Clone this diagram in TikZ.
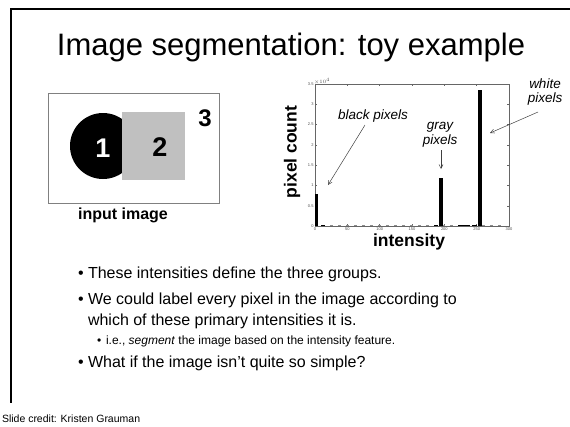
\documentclass[tikz,border=0pt]{standalone}
\usepackage{fontspec}
\setmainfont{Liberation Sans}
\usetikzlibrary{arrows.meta}
\newcommand{\sz}[1]{\fontsize{#1bp}{#1bp}\selectfont}
\definecolor{boxgray}{HTML}{C0C0C0}
\definecolor{rimgray}{HTML}{808080}
\begin{document}
\begin{tikzpicture}[x=1bp,y=-1bp,
  txt/.style={inner sep=0pt, outer sep=0pt},
  bigdigit/.style={txt, font=\sz{27}\bfseries},
  axlabel/.style={txt, font=\sz{17.5}\bfseries},
  note/.style={txt, font=\sz{13.5}\itshape, align=center},
  pointer/.style={line width=0.5bp, draw=black!75, -{Straight Barb[length=4bp,width=4bp]}},
  ticklbl/.style={txt, font=\sz{4}, text=black!70},
  bullet/.style={txt, anchor=base west, font=\sz{16}},
  subbullet/.style={txt, anchor=base west, font=\sz{12}},
  bar/.style={fill=black}
]
\useasboundingbox (0,0) rectangle (570,426);

% slide frame
\draw[line width=2.5bp] (570,9) -- (11,9) -- (11,403);

% title
\node[txt, anchor=base, font=\sz{31}] (title) at (291,55) {Image segmentation: toy example};

% input image
\draw[rimgray, line width=0.6bp] (48,93) rectangle (219,203);
\fill[black] (103,146) circle (33);
\fill[boxgray] (122,112) rectangle (185,180);
\node[bigdigit, text=white] (one) at (103,148) {1};
\node[bigdigit] (two) at (160,147) {2};
\node[txt, font=\sz{24}\bfseries] (three) at (205,118) {3};
\node[txt, font=\sz{16}\bfseries] (inlbl) at (123,215) {input image};

% histogram axes
\draw[black!60, line width=0.5bp] (315,84) rectangle (509,226);
\foreach \i in {0,...,6}{
  \pgfmathsetmacro\xx{315+\i*32.333}
  \draw[black!60, line width=0.4bp] (\xx,226) -- (\xx,224) (\xx,84) -- (\xx,86);
  \pgfmathtruncatemacro\lbl{\i*50}
  \node[ticklbl, anchor=north] at (\xx,228) {\lbl};
}
\foreach \v [count=\j from 0] in {0,0.5,1,1.5,2,2.5,3,3.5}{
  \pgfmathsetmacro\yy{226-\j*20.286}
  \draw[black!60, line width=0.4bp] (315,\yy) -- (317,\yy) (509,\yy) -- (507,\yy);
  \node[ticklbl, anchor=east] at (313.5,\yy) {\v};
}
\node[ticklbl, anchor=south west] at (314,84) {$\times10^4$};

% low counts along the base line
\draw[black!45, line width=0.8bp, dash pattern=on 3bp off 5bp] (322,225.4) -- (506,225.4);
\draw[black, line width=0.8bp] (321,225.4) -- (325,225.4) (434,225.4) -- (438,225.4)
  (458,225.4) -- (470,225.4) (472,225.4) -- (477,225.4);

% histogram bars
\fill[bar] (315,226) rectangle (318.2,194);
\fill[bar] (439.4,226) rectangle (442.6,178);
\fill[bar] (478.4,226) rectangle (481.6,90);

% axis labels
\node[axlabel, rotate=90] (ylbl) at (292,152) {pixel count};
\node[axlabel] (xlbl) at (409,241.5) {intensity};

% annotations
\node[note] (blk) at (373,116) {black pixels};
\node[note] (gry) at (440,135) {gray\\[1bp]pixels};
\node[note] (wht) at (545,92) {white\\[1bp]pixels};
\coordinate (blkend) at (328,185);
\coordinate (gryend) at (441,169);
\coordinate (whtend) at (490,133);
\draw[pointer] (365,125) -- (blkend);
\draw[pointer] (441,150) -- (gryend);
\draw[pointer] (538,112) -- (whtend);

% bullet list
\node[bullet] (d1) at (78,278) {\textbullet};
\node[bullet] (b1) at (88,278) {These intensities define the three groups.};
\node[bullet] (d2) at (78,304) {\textbullet};
\node[bullet] (b2) at (88,304) {We could label every pixel in the image according to};
\node[bullet] (b2b) at (88,325) {which of these primary intensities it is.};
\node[subbullet] (d3) at (97,344) {\textbullet};
\node[subbullet] (b3) at (106,344) {i.e., \textit{segment} the image based on the intensity feature.};
\node[bullet] (d4) at (78,367) {\textbullet};
\node[bullet] (b4) at (88,367) {What if the image isn’t quite so simple?};

% credit line
\node[txt, anchor=base west, font=\sz{10.5}] (credit) at (2,422) {Slide credit: Kristen Grauman};
\end{tikzpicture}
\end{document}
